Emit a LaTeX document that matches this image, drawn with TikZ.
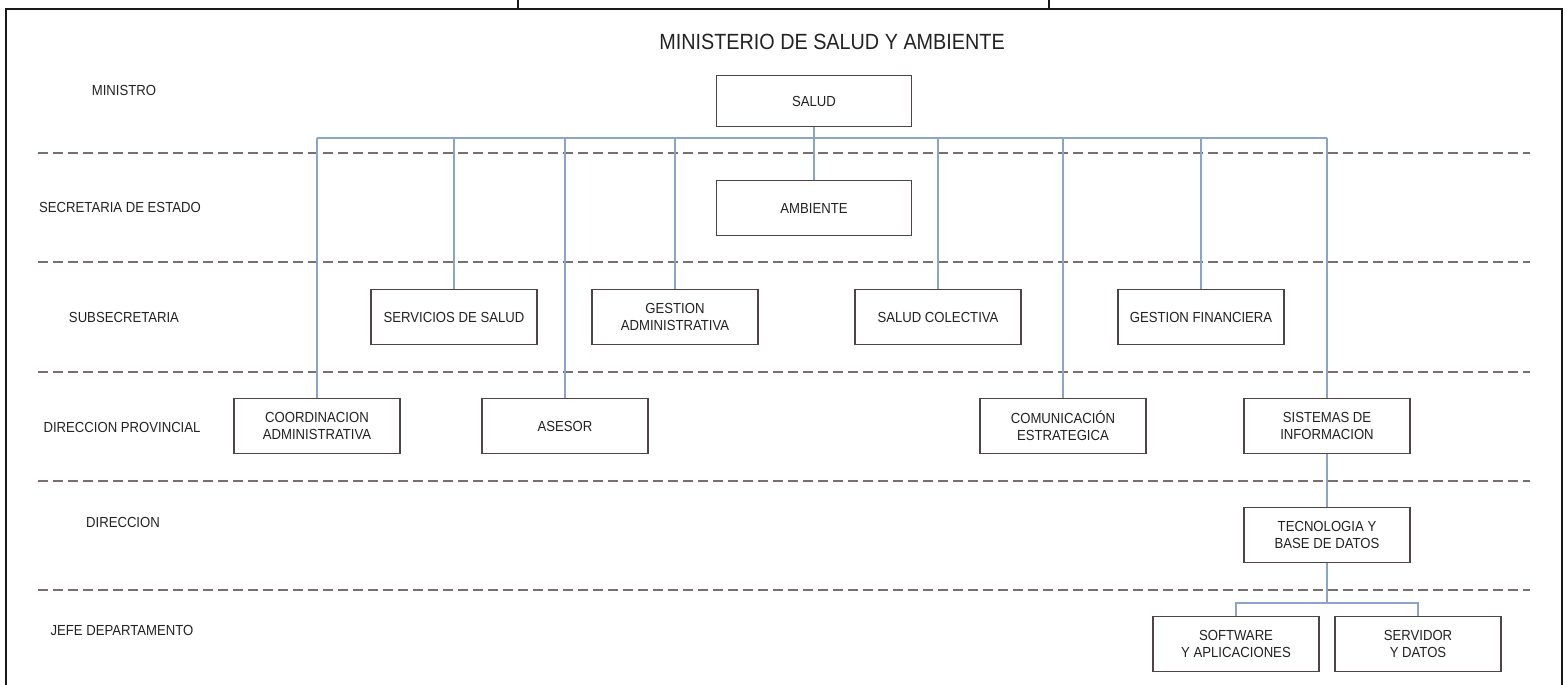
\documentclass[tikz,border=0pt]{standalone}
\usepackage{fontspec}
\setmainfont{Liberation Sans}[FakeStretch=0.9]
\definecolor{conn}{HTML}{8CA5C6}
\definecolor{dashc}{HTML}{7A6E6E}
\definecolor{boxc}{HTML}{4E4444}
\definecolor{txt}{HTML}{222222}
\begin{document}
\begin{tikzpicture}[x=1pt,y=-1pt,
  orgbox/.style={draw=boxc, line width=1.8pt, fill=white, minimum width=166pt, minimum height=55pt, inner sep=0pt, align=center, text=txt, font=\fontsize{14.6}{17}\selectfont},
  widebox/.style={orgbox, minimum width=195pt},
  rowlabel/.style={text=txt, font=\fontsize{14.6}{17}\selectfont, inner sep=0pt},
  sep/.style={draw=dashc, line width=2pt, dash pattern=on 10pt off 5pt},
  link/.style={draw=conn, line width=1.6pt},
  frame/.style={draw=black!90, line width=2pt}]
\useasboundingbox (0,0) rectangle (1567,685);
% frame
\coordinate (fTL) at (6,9);
\coordinate (fTR) at (1562,9);
\coordinate (fBL) at (6,685);
\coordinate (fBR) at (1562,685);
\coordinate (t1) at (518,0);
\coordinate (t2) at (1049,0);
\draw[frame] (fBL) -- (fTL) -- (fTR) -- (fBR);
\draw[frame] (t1) -- (t1 |- fTL);
\draw[frame] (t2) -- (t2 |- fTL);
% separators
\foreach \yy/\nm in {153/s1,262/s2,372/s3,481/s4,590/s5}{
  \coordinate (\nm L) at (38,\yy);
  \coordinate (\nm R) at (1530,\yy);
  \draw[sep] (\nm L) -- (\nm R);
}
% title
\node[text=txt, font=\fontsize{22}{25}\selectfont, inner sep=0pt] (title) at (832,42) {MINISTERIO DE SALUD Y AMBIENTE};
% row labels
\node[rowlabel] (l1) at (124,90) {MINISTRO};
\node[rowlabel] (l2) at (120,207) {SECRETARIA DE ESTADO};
\node[rowlabel] (l3) at (124,317) {SUBSECRETARIA};
\node[rowlabel] (l4) at (122,427) {DIRECCION PROVINCIAL};
\node[rowlabel] (l5) at (123,522) {DIRECCION};
\node[rowlabel] (l6) at (122,630) {JEFE DEPARTAMENTO};
% boxes
\node[widebox, minimum height=51pt] (salud) at (814,101) {SALUD};
\node[widebox] (amb) at (814,208) {AMBIENTE};
\node[orgbox] (serv) at (454,317) {SERVICIOS DE SALUD};
\node[orgbox] (gadm) at (675,317) {GESTION\\ADMINISTRATIVA};
\node[orgbox] (scol) at (938,317) {SALUD COLECTIVA};
\node[orgbox] (gfin) at (1201,317) {GESTION FINANCIERA};
\node[orgbox] (coord) at (317,426) {COORDINACION\\ADMINISTRATIVA};
\node[orgbox] (ases) at (565,426) {ASESOR};
\node[orgbox] (com) at (1063,426) {COMUNICACIÓN\\ESTRATEGICA};
\node[orgbox] (sist) at (1327,426) {SISTEMAS DE\\INFORMACION};
\node[orgbox] (tec) at (1327,535) {TECNOLOGIA Y\\BASE DE DATOS};
\node[orgbox] (soft) at (1236,644) {SOFTWARE\\Y APLICACIONES};
\node[orgbox] (servd) at (1418,644) {SERVIDOR\\Y DATOS};
% connectors
\coordinate (busL) at (317,138);
\coordinate (busR) at (1327,138);
\draw[link] (busL) -- (busR);
\draw[link] (salud.south) -- (amb.north);
\foreach \n in {serv,gadm,scol,gfin,coord,ases,com,sist}{
  \draw[link] (\n.north) -- (\n.north |- busL);
}
\draw[link] (sist.south) -- (tec.north);
\coordinate (br) at (1327,603);
\draw[link] (tec.south) -- (br);
\draw[link] (soft.north) -- (soft.north |- br) -- (servd.north |- br) -- (servd.north);
\end{tikzpicture}
\end{document}
